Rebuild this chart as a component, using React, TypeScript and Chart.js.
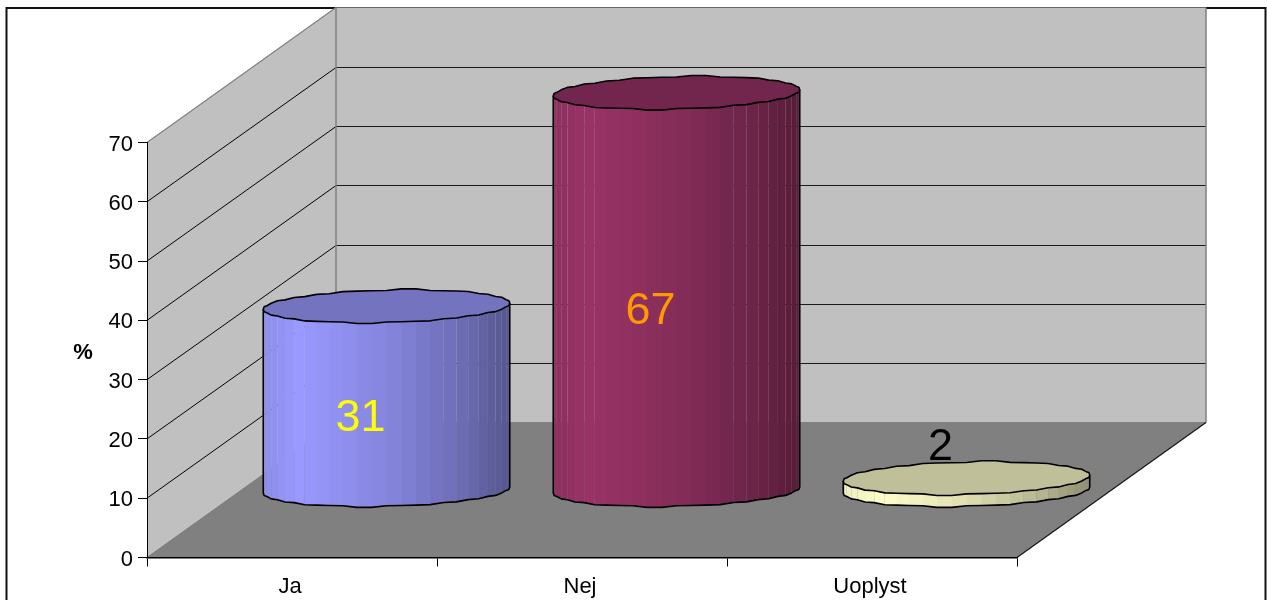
import React, { useEffect, useRef } from "react";
import { Chart, registerables } from "chart.js";

Chart.register(...registerables);

const categories = ["Ja", "Nej", "Uoplyst"];
const percentages = [31, 67, 2];
const columnColors = [[153, 153, 255], [153, 51, 102], [255, 255, 204]];
const labelColors = ["#FFFF00", "#FF9900", "#000000"];

// Oblique projection: how far the back wall sits from the front plane.
const DEPTH_X = 189;
const DEPTH_Y = -135;
const FONT = '"Liberation Sans", Arial, sans-serif';
const FACETS = 26;
const CYLINDER_DEPTH = 0.124;

const shadeAt = (f: number) => {
  const stops = [[0, 0.92], [0.15, 1], [0.5, 0.87], [0.8, 0.71], [1, 0.56]];
  for (let i = 1; i < stops.length; i++) {
    if (f <= stops[i][0]) {
      const [a, va] = stops[i - 1];
      const [b, vb] = stops[i];
      return va + ((vb - va) * (f - a)) / (b - a);
    }
  }
  return 0.56;
};

const tint = (c: number[], k: number) =>
  `rgb(${c.map((v) => Math.round(v * k)).join(",")})`;

// Partial coordinate rounding gives the outline its metafile-like waviness.
const wobble = (v: number, step: number) =>
  v + 0.5 * (Math.round(v / step) * step - v);

function drawCylinder(
  ctx: CanvasRenderingContext2D,
  cx: number,
  topY: number,
  baseY: number,
  halfWidth: number,
  color: number[]
) {
  const B = CYLINDER_DEPTH * DEPTH_X;
  const C = CYLINDER_DEPTH * -DEPTH_Y;
  const A = Math.sqrt(halfWidth * halfWidth - B * B);
  const t0 = Math.atan2(B, A);
  const pt = (k: number) => {
    const t = t0 + Math.PI + (k * Math.PI) / FACETS;
    return {
      x: A * Math.cos(t) + B * Math.sin(t),
      y: wobble(-C * Math.sin(t), 3),
    };
  };

  // Side wall, one flat facet per step around the visible half. Facets in the
  // middle overlap their neighbour; those near the edges leave a hairline seam.
  for (let k = 0; k < FACETS; k++) {
    const p = pt(k);
    const q = pt(k + 1);
    const mid = (p.x + q.x) / 2;
    const frac = (mid + halfWidth) / (2 * halfWidth);
    const seam = frac < 0.18 || frac > 0.66;
    ctx.fillStyle = tint(color, shadeAt(frac));
    const qx = k < FACETS - 1 && !seam ? q.x + 0.8 : q.x;
    ctx.beginPath();
    ctx.moveTo(cx + p.x, topY + p.y);
    ctx.lineTo(cx + qx, topY + q.y);
    ctx.lineTo(cx + qx, baseY + q.y);
    ctx.lineTo(cx + p.x, baseY + p.y);
    ctx.closePath();
    ctx.fill();
  }

  // Silhouette of the side wall.
  ctx.strokeStyle = "#000000";
  ctx.lineWidth = 1.6;
  ctx.lineJoin = "round";
  ctx.beginPath();
  const first = pt(0);
  ctx.moveTo(cx + first.x, topY + first.y);
  for (let k = 0; k <= FACETS; k++) {
    const p = pt(k);
    ctx.lineTo(cx + p.x, baseY + p.y);
  }
  const last = pt(FACETS);
  ctx.lineTo(cx + last.x, topY + last.y);
  ctx.stroke();

  // Lid.
  ctx.fillStyle = tint(color, 0.75);
  ctx.beginPath();
  for (let k = 0; k < 2 * FACETS; k++) {
    const p = pt(k);
    if (k === 0) ctx.moveTo(cx + p.x, topY + p.y);
    else ctx.lineTo(cx + p.x, topY + p.y);
  }
  ctx.closePath();
  ctx.fill();
  ctx.stroke();
}

const roomPlugin = {
  id: "room",
  beforeDraw(chart: any) {
    const { ctx, chartArea: a, scales, width } = chart;
    const poly = (pts: number[][], fill: string) => {
      ctx.fillStyle = fill;
      ctx.beginPath();
      pts.forEach(([x, y], i) => (i ? ctx.lineTo(x, y) : ctx.moveTo(x, y)));
      ctx.closePath();
      ctx.fill();
    };
    const line = (x1: number, y1: number, x2: number, y2: number, c: string, w: number) => {
      ctx.strokeStyle = c;
      ctx.lineWidth = w;
      ctx.beginPath();
      ctx.moveTo(x1, y1);
      ctx.lineTo(x2, y2);
      ctx.stroke();
    };
    const { left: L, right: R, top: T, bottom: Bt } = a;
    const bx = DEPTH_X;
    const by = DEPTH_Y;
    ctx.save();

    // Outer frame, running off the bottom of the canvas.
    ctx.strokeStyle = "#111111";
    ctx.lineWidth = 2;
    ctx.strokeRect(6.5, 8, width - 8, 700);

    poly([[L, Bt], [L, T], [L + bx, T + by], [L + bx, Bt + by]], "#C0C0C0");
    poly([[L + bx, T + by], [R + bx, T + by], [R + bx, Bt + by], [L + bx, Bt + by]], "#C0C0C0");
    poly([[L, Bt], [R, Bt], [R + bx, Bt + by], [L + bx, Bt + by]], "#808080");

    // Gridlines fold from the side wall onto the back wall.
    scales.y.ticks.forEach((tick: any) => {
      if (tick.value === 0 || tick.value === 70) return;
      const y = scales.y.getPixelForValue(tick.value);
      const backY = Math.round(y + by) + 0.5;
      line(L, y, L + bx, backY, "#000000", 1);
      line(L + bx, backY, R + bx, backY, "#1a1a1a", 1.2);
    });

    line(L, T, L + bx, T + by, "#808080", 1.2);
    line(L + bx, T + by, L + bx, Bt + by, "#808080", 1.5);
    line(R + bx, T + by, R + bx, Bt + by, "#808080", 1.5);
    line(L, Bt, L + bx, Bt + by, "#777777", 1);
    line(L + bx, Bt + by, R + bx, Bt + by, "#808080", 1);
    line(R, Bt, R + bx, Bt + by, "#111111", 1.1);

    ctx.fillStyle = "#000000";
    ctx.font = `bold 22px ${FONT}`;
    ctx.textAlign = "center";
    ctx.textBaseline = "middle";
    ctx.fillText("%", 83, 353);
    ctx.restore();
  },
  afterDatasetsDraw(chart: any) {
    const { ctx, scales } = chart;
    const bars = chart.getDatasetMeta(0).data;
    ctx.save();
    bars.forEach((bar: any, i: number) => {
      const cx = bar.x + DEPTH_X / 2;
      const topY = bar.y + DEPTH_Y / 2;
      const baseY = scales.y.getPixelForValue(0) + DEPTH_Y / 2;
      drawCylinder(ctx, cx, topY, baseY, bar.width / 2, columnColors[i]);
    });
    // Value labels: inside tall columns, above the lid of short ones.
    bars.forEach((bar: any, i: number) => {
      const cx = bar.x + DEPTH_X / 2 - 26;
      const topY = bar.y + DEPTH_Y / 2;
      const baseY = scales.y.getPixelForValue(0) + DEPTH_Y / 2;
      const y = baseY - topY > 60 ? (topY + baseY) / 2 + 20 : topY - 31;
      ctx.fillStyle = labelColors[i];
      ctx.font = `45px ${FONT}`;
      ctx.textAlign = "center";
      ctx.textBaseline = "middle";
      ctx.fillText(String(percentages[i]), cx, y);
    });
    ctx.restore();
  },
};

export default function App() {
  const ref = useRef<HTMLCanvasElement>(null);

  useEffect(() => {
    const chart = new Chart(ref.current as HTMLCanvasElement, {
      type: "bar",
      data: {
        labels: categories,
        datasets: [
          {
            data: percentages,
            backgroundColor: "rgba(0,0,0,0)",
            borderWidth: 0,
            categoryPercentage: 0.85,
            barPercentage: 1,
          },
        ],
      },
      plugins: [roomPlugin],
      options: {
        responsive: false,
        animation: false,
        layout: { padding: { left: 0, right: 250, top: 142.5, bottom: 0 } },
        plugins: { legend: { display: false }, tooltip: { enabled: false } },
        scales: {
          x: {
            afterFit: (s: any) => {
              s.height = 42.5;
            },
            border: { color: "#000000", width: 1.5 },
            grid: { drawOnChartArea: false, drawTicks: true, tickLength: 9, color: "#000000" },
            ticks: {
              color: "#000000",
              font: { family: FONT, size: 22 },
              padding: 7,
              maxRotation: 0,
              autoSkip: false,
              labelOffset: -2,
            },
          },
          y: {
            min: 0,
            max: 70,
            afterFit: (s: any) => {
              s.width = 147;
            },
            border: { color: "#000000", width: 1 },
            grid: { drawOnChartArea: false, drawTicks: true, tickLength: 9, color: "#000000" },
            ticks: {
              stepSize: 10,
              color: "#000000",
              font: { family: FONT, size: 22 },
              padding: 5,
              labelOffset: 2,
            },
          },
        },
      },
    } as any);
    return () => chart.destroy();
  }, []);

  return (
    <div style={{ position: "fixed", left: 0, top: 0 }}>
      <canvas ref={ref} width={1267} height={600} style={{ display: "block" }} />
    </div>
  );
}
